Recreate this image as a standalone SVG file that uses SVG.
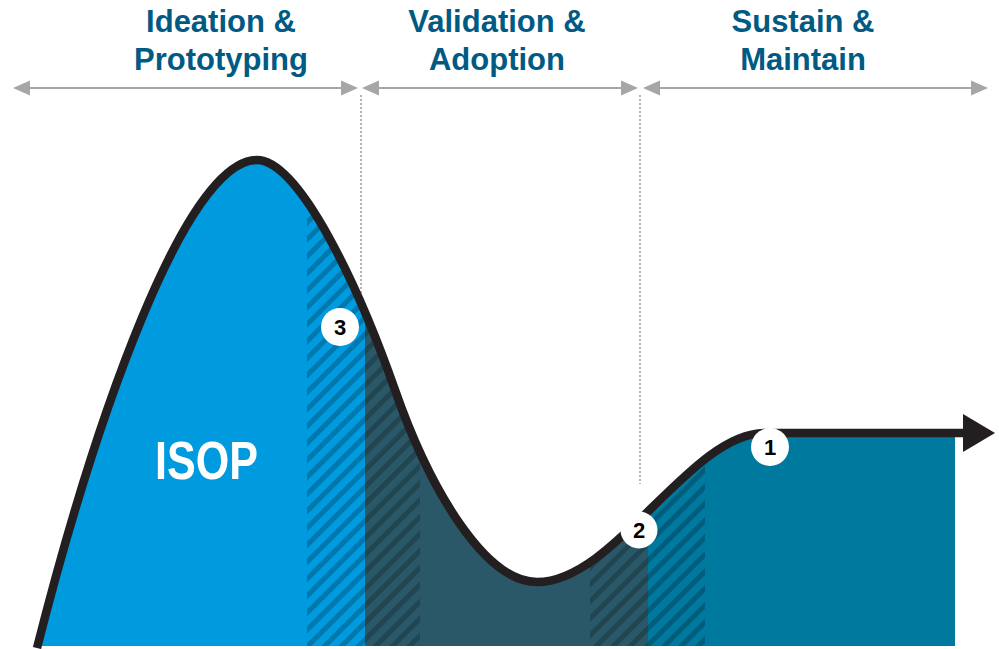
<svg xmlns="http://www.w3.org/2000/svg" width="999" height="649" viewBox="0 0 999 649">
<style>
.hdr{font-family:"Liberation Sans",Arial,sans-serif;font-weight:bold;font-size:31px;fill:#005A83;text-anchor:middle}
.num{font-family:"Liberation Sans",Arial,sans-serif;font-weight:bold;font-size:22px;fill:#000;text-anchor:middle}
.span{stroke:#A6A6A6;stroke-width:2.2;fill:none}
.ah{fill:#A6A6A6}
.dot{stroke:#9A9A9A;stroke-width:1.5;stroke-dasharray:2 2;fill:none}
.badge{fill:#fff}
</style>
<defs>
<clipPath id="under">
<path d="M37,648 C95,420 185,160 257,160 C300,160 360,290 395,390 C430,490 485,582 537,582 C615,582 690,433 765,433 L955,433 L955,646 L37,646 Z"/>
</clipPath>
<pattern id="hatch" width="12" height="12" patternUnits="userSpaceOnUse" patternTransform="rotate(45)">
<rect x="0" y="0" width="5" height="12" fill="#000" fill-opacity="0.22"/>
</pattern>
</defs>
<rect width="999" height="649" fill="#fff"/>
<g id="phases">
<g id="phase-ideation">
<text class="hdr" x="221" y="32">Ideation &amp;</text>
<text class="hdr" x="221" y="70">Prototyping</text>
</g>
<g id="phase-validation">
<text class="hdr" x="497" y="32">Validation &amp;</text>
<text class="hdr" x="497" y="70">Adoption</text>
</g>
<g id="phase-sustain">
<text class="hdr" x="803" y="32">Sustain &amp;</text>
<text class="hdr" x="803" y="70">Maintain</text>
</g>
</g>
<g id="spans">
<line class="span" x1="28" y1="88" x2="343" y2="88"/>
<polygon class="ah" points="13,88 30,80.5 30,95.5"/>
<polygon class="ah" points="358,88 341,80.5 341,95.5"/>
<line class="span" x1="377" y1="88" x2="624" y2="88"/>
<polygon class="ah" points="362,88 379,80.5 379,95.5"/>
<polygon class="ah" points="638,88 621,80.5 621,95.5"/>
<line class="span" x1="657" y1="88" x2="973" y2="88"/>
<polygon class="ah" points="643,88 660,80.5 660,95.5"/>
<polygon class="ah" points="988,88 971,80.5 971,95.5"/>
<line class="dot" x1="361" y1="95" x2="361" y2="299"/>
<line class="dot" x1="640" y1="95" x2="640" y2="484"/>
</g>
<g id="area" clip-path="url(#under)">
<rect x="0" y="100" width="365" height="560" fill="#009ADE"/>
<rect x="365" y="100" width="283" height="560" fill="#2A5868"/>
<rect x="648" y="100" width="307" height="560" fill="#00799F"/>
<rect x="307" y="100" width="113" height="560" fill="url(#hatch)"/>
<rect x="590" y="100" width="115" height="560" fill="url(#hatch)"/>
</g>
<g id="connectors">
<path d="M37,648 C95,420 185,160 257,160 C300,160 360,290 395,390 C430,490 485,582 537,582 C615,582 690,433 765,433 L965,433" fill="none" stroke="#231F20" stroke-width="8.5"/>
<polygon points="963,414 995,433 963,452" fill="#231F20"/>
</g>
<g id="isop">
<text x="155" y="479" textLength="103" lengthAdjust="spacingAndGlyphs" style="font-family:'Liberation Sans',Arial,sans-serif;font-weight:bold;font-size:54px;fill:#fff">ISOP</text>
</g>
<g id="marker-3">
<circle class="badge" cx="340" cy="327" r="19"/>
<text class="num" x="340" y="335">3</text>
</g>
<g id="marker-2">
<circle class="badge" cx="639" cy="530" r="18.5"/>
<text class="num" x="639" y="538">2</text>
</g>
<g id="marker-1">
<circle class="badge" cx="770" cy="447" r="19"/>
<text class="num" x="770" y="455">1</text>
</g>
</svg>
